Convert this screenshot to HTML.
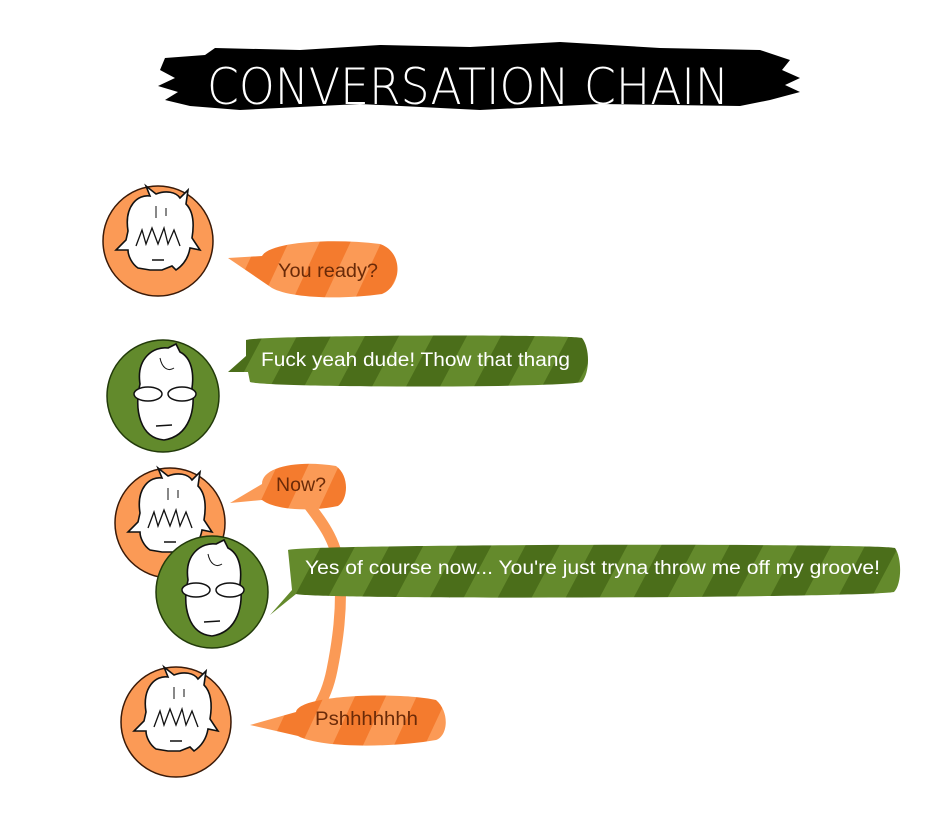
<!DOCTYPE html>
<html><head><meta charset="utf-8"><style>
html,body{margin:0;padding:0;background:#fff;width:940px;height:838px;overflow:hidden}
svg{display:block}
.ot{font-family:"Liberation Sans",sans-serif;font-size:19px;fill:#6a2a08}
.gt{font-family:"Liberation Sans",sans-serif;font-size:19px;fill:#fff}
</style></head><body>
<svg width="940" height="838" viewBox="0 0 940 838" xmlns="http://www.w3.org/2000/svg">
<defs>
<pattern id="po" patternUnits="userSpaceOnUse" width="56" height="56" patternTransform="rotate(25)">
<rect width="56" height="56" fill="#fb9a56"/><rect width="28" height="56" fill="#f47b2e"/></pattern>
<pattern id="pg" patternUnits="userSpaceOnUse" width="60" height="60" patternTransform="rotate(28)">
<rect width="60" height="60" fill="#648a2c"/><rect width="30" height="60" fill="#4b6e1a"/></pattern>
<g id="faceO">
<path d="M-30,-5 C-34,-30 -20,-42 -8,-40 L-12,-50 L-2,-42 C8,-46 18,-44 22,-38 L30,-46 L28,-32 C36,-24 36,-10 34,2 L42,14 L32,12 C30,24 24,30 18,34 L14,30 L4,34 L-8,34 L-20,32 C-26,28 -30,20 -30,14 L-42,14 L-32,4 Z" fill="#fff" stroke="#111" stroke-width="1.6"/>
<path d="M-22,10 L-16,-6 L-12,8 L-6,-8 L0,8 L6,-8 L10,8 L16,-6 L22,10" fill="none" stroke="#111" stroke-width="1.3"/>
<path d="M-6,24 L6,24" stroke="#111" stroke-width="1.5"/>
<path d="M-2,-30 L-2,-18 M8,-28 L8,-20" stroke="#111" stroke-width="1"/>
</g>
<g id="faceG">
<path d="M-24,-14 C-28,-40 -10,-52 4,-50 L12,-54 L16,-46 C28,-40 30,-24 28,-10 C32,10 26,38 0,42 C-24,40 -30,12 -24,-14 Z" fill="#fff" stroke="#111" stroke-width="1.6"/>
<ellipse cx="-16" cy="-4" rx="14" ry="7" fill="#fff" stroke="#111" stroke-width="1.5"/>
<ellipse cx="18" cy="-4" rx="14" ry="7" fill="#fff" stroke="#111" stroke-width="1.5"/>
<path d="M-8,28 L8,27" stroke="#111" stroke-width="1.5"/>
<path d="M-4,-40 C-2,-30 4,-26 10,-30" fill="none" stroke="#111" stroke-width="1"/>
</g>
</defs>

<path d="M165,58 L205,55 L215,48 L300,50 L380,45 L470,47 L560,42 L660,48 L760,50 L790,60 L782,70 L800,78 L785,85 L800,92 L770,100 L740,106 L600,104 L480,110 L360,104 L240,110 L190,106 L165,100 L178,92 L158,86 L175,78 L160,70 Z" fill="#000"/>
<text x="207" y="104" font-family="DejaVu Sans,sans-serif" font-weight="200" font-size="50" fill="#fff" textLength="522" lengthAdjust="spacingAndGlyphs">CONVERSATION CHAIN</text>

<path d="M305,500 C320,520 338,540 340,575 C342,610 338,640 332,670 C328,690 322,700 318,708" fill="none" stroke="#fb9a56" stroke-width="11" stroke-linecap="round"/>

<circle cx="158" cy="241" r="55" fill="#fb9a56" stroke="#3a1a08" stroke-width="1.5"/>
<use href="#faceO" x="158" y="236"/>
<path d="M228,258 L262,256 C270,242 330,238 380,244 C404,252 402,286 382,294 C340,300 290,298 272,288 Z" fill="url(#po)"/>
<text x="278" y="277" class="ot" textLength="100" lengthAdjust="spacingAndGlyphs">You ready?</text>

<circle cx="163" cy="396" r="56" fill="#628a2c" stroke="#223a0a" stroke-width="1.5"/>
<use href="#faceG" x="164" y="398"/>
<path d="M228,372 L246,356 L246,340 C260,335 570,334 582,338 C590,348 590,372 582,382 C560,388 270,388 250,382 L248,372 Z" fill="url(#pg)"/>
<text x="261" y="366" class="gt" textLength="309" lengthAdjust="spacingAndGlyphs">Fuck yeah dude! Thow that thang</text>

<circle cx="170" cy="523" r="55" fill="#fb9a56" stroke="#3a1a08" stroke-width="1.5"/>
<use href="#faceO" x="170" y="518"/>
<path d="M230,503 L262,484 C262,466 300,460 336,466 C350,476 348,500 338,506 C310,512 275,510 262,500 Z" fill="url(#po)"/>
<text x="276" y="491" class="ot" textLength="50" lengthAdjust="spacingAndGlyphs">Now?</text>

<circle cx="212" cy="592" r="56" fill="#628a2c" stroke="#223a0a" stroke-width="1.5"/>
<use href="#faceG" x="212" y="594"/>
<path d="M270,615 L292,590 L288,550 C300,544 880,543 895,548 C902,558 902,584 894,592 C860,598 320,600 296,594 Z" fill="url(#pg)"/>
<text x="305" y="574" class="gt" textLength="575" lengthAdjust="spacingAndGlyphs">Yes of course now... You're just tryna throw me off my groove!</text>

<circle cx="176" cy="722" r="55" fill="#fb9a56" stroke="#3a1a08" stroke-width="1.5"/>
<use href="#faceO" x="176" y="717"/>
<path d="M250,725 L296,712 C300,694 400,692 436,700 C450,712 448,736 436,740 C390,748 320,748 298,736 Z" fill="url(#po)"/>
<text x="315" y="725" class="ot" textLength="103" lengthAdjust="spacingAndGlyphs">Pshhhhhhh</text>
</svg>
</body></html>
